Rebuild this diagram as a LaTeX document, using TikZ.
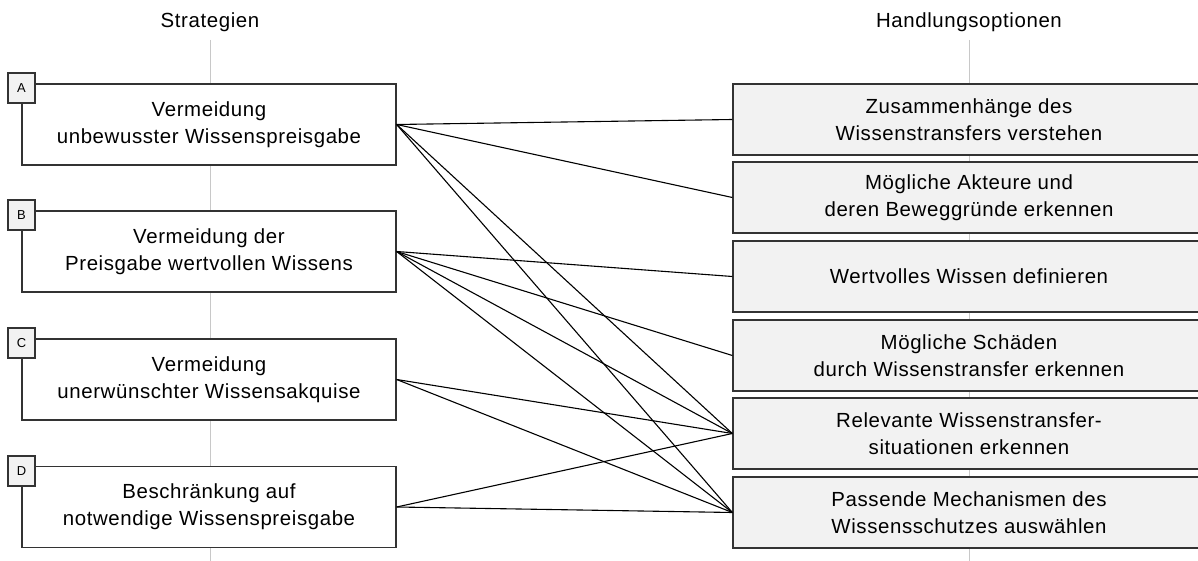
\documentclass[tikz,border=0pt]{standalone}
\usepackage{fontspec}
\setmainfont{Liberation Sans}[LetterSpace=3]

\definecolor{boxfill}{HTML}{F2F2F2}
\definecolor{boxline}{HTML}{333333}
\definecolor{axisgray}{HTML}{C8C8C8}

\tikzset{
  strategy/.style={draw=boxline, line width=1.3bp, fill=white, inner sep=0pt,
    minimum width=374bp, minimum height=81bp, align=center,
    font=\fontsize{20.5}{27}\selectfont},
  option/.style={strategy, fill=boxfill, minimum width=472bp, minimum height=71bp},
  tagbox/.style={draw=boxline, line width=1.1bp, fill=boxfill, inner sep=0pt,
    minimum width=27bp, minimum height=30bp, font=\fontsize{13}{15}\selectfont},
  heading/.style={font=\fontsize{20.5}{24}\selectfont},
  link/.style={line width=1.1bp, black},
  axis/.style={axisgray, line width=1bp}
}

\begin{document}
\begin{tikzpicture}[x=1bp, y=-1bp]
            \useasboundingbox (0, 0) rectangle (1198, 561);
            \clip (0, 0) rectangle (1198, 561);

            % column headings and the grey axes behind the boxes
            \node [heading] (hstrat) at (210, 22)  {Strategien};
            \node [heading] (hopt)   at (969, 22)  {Handlungsoptionen};
            \draw [axis] (210, 40) -- (210, 561);
            \draw [axis] (969, 40) -- (969, 561);

            % strategies
            \node [strategy] (sA) at (209, 124.5) {Vermeidung\\unbewusster Wissenspreisgabe};
            \node [tagbox]   (tA) at (21.5, 88)   {A};
            \node [strategy] (sB) at (209, 251.5) {Vermeidung der\\Preisgabe wertvollen Wissens};
            \node [tagbox]   (tB) at (21.5, 215)  {B};
            \node [strategy] (sC) at (209, 379.5) {Vermeidung\\unerwünschter Wissensakquise};
            \node [tagbox]   (tC) at (21.5, 343)  {C};
            \node [strategy] (sD) at (209, 507)   {Beschränkung auf\\notwendige Wissenspreisgabe};
            \node [tagbox]   (tD) at (21.5, 471)  {D};

            % options, running on past the right edge
            \node [option] (o1) at (969, 119.5) {Zusammenhänge des\\Wissenstransfers verstehen};
            \node [option] (o2) at (969, 197.5) {Mögliche Akteure und\\deren Beweggründe erkennen};
            \node [option] (o3) at (969, 276.5) {Wertvolles Wissen definieren};
            \node [option] (o4) at (969, 355.5) {Mögliche Schäden\\durch Wissenstransfer erkennen};
            \node [option] (o5) at (969, 433.5) {Relevante Wissenstransfer-\\situationen erkennen};
            \node [option] (o6) at (969, 512.5) {Passende Mechanismen des\\Wissensschutzes auswählen};

            % which strategy needs which option
            \foreach \s/\o in {sA/o1, sA/o2, sA/o5, sA/o6,
                               sB/o3, sB/o4, sB/o5, sB/o6,
                               sC/o5, sC/o6,
                               sD/o5, sD/o6}
              \draw [link] (\s.east) -- (\o.west);
          \end{tikzpicture}
\end{document}
